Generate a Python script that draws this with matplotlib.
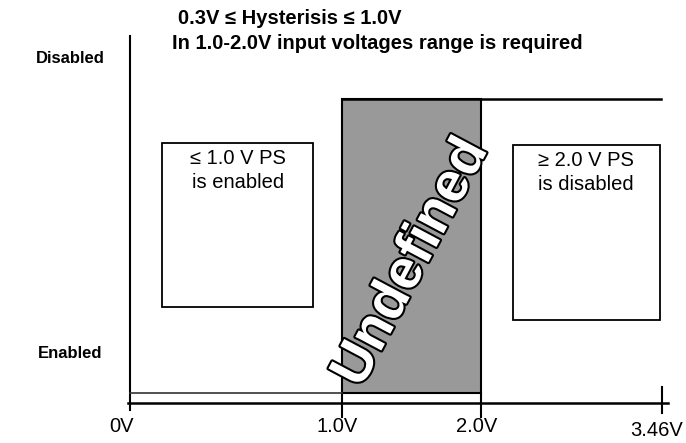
import matplotlib
matplotlib.use('Agg')
from matplotlib import pyplot as plt
from matplotlib.patches import Rectangle
import matplotlib.patheffects as pe

plt.rcParams['font.family'] = ['Liberation Sans', 'DejaVu Sans']

# schematic layout in pixel-like units (not to scale)
tick_labels = ['0V', '1.0V', '2.0V', '3.46V']
tick_x = [130, 342, 481, 662]
level_labels = ['Disabled', 'Enabled']
level_y = [58, 353]
high_y = 99
low_y = 393
axis_y = 403
title_lines = ['0.3V \u2264 Hysterisis \u2264 1.0V',
               'In 1.0-2.0V input voltages range is required']
left_box_lines = ['\u2264 1.0 V PS', 'is enabled']
right_box_lines = ['\u2265 2.0 V PS', 'is disabled']

fig = plt.figure(figsize=(6.86, 4.43), dpi=100)
ax = fig.add_axes([0, 0, 1, 1])
ax.set_xlim(0, 686)
ax.set_ylim(443, 0)
ax.axis('off')

# axes
ax.plot([tick_x[0], tick_x[0]], [36, 410], color='black', lw=1.5)
ax.plot([tick_x[0] - 2, 668], [axis_y, axis_y], color='black', lw=1.8)
for x in tick_x[1:3]:
    ax.plot([x, x], [low_y, 417], color='black', lw=1.5)
ax.plot([tick_x[3], tick_x[3]], [387, 413], color='black', lw=1.5)

# undefined region
ax.add_patch(Rectangle((tick_x[1], high_y), tick_x[2] - tick_x[1], low_y - high_y,
                       facecolor='#999999', edgecolor='black', lw=1.5, zorder=2))
# transfer curve: low up to 1.0V, high from 1.0V
ax.plot([tick_x[0], tick_x[1]], [low_y, low_y], color='#333333', lw=1.2)
ax.plot([tick_x[1], 661], [high_y, high_y], color='black', lw=1.8, zorder=3)

# boxes
ax.add_patch(Rectangle((162, 143), 151, 164, facecolor='white', edgecolor='black', lw=1.3))
ax.add_patch(Rectangle((513, 145), 147, 175, facecolor='white', edgecolor='black', lw=1.3))
for lab, y in zip(left_box_lines, [159, 183]):
    ax.text(238, y, lab, ha='center', va='center', fontsize=14.5)
for lab, y in zip(right_box_lines, [161, 185]):
    ax.text(586, y, lab, ha='center', va='center', fontsize=14.5)

t = ax.text(412, 263, 'Undefined', ha='center', va='center', rotation=62,
            fontsize=40, fontweight='bold', color='white', zorder=4)
t.set_path_effects([pe.Stroke(linewidth=3, foreground='black'), pe.Normal()])

# labels
for lab, y in zip(level_labels, level_y):
    ax.text(70, y, lab, ha='center', va='center', fontsize=12, fontweight='bold')
ax.text(178, 18, title_lines[0], ha='left', va='center', fontsize=14.5, fontweight='bold')
ax.text(172, 43, title_lines[1], ha='left', va='center', fontsize=14.5, fontweight='bold')

label_dx = [-8, -5, -4, -5]
label_y = [427, 427, 427, 430]
for lab, x, dx, y in zip(tick_labels, tick_x, label_dx, label_y):
    ax.text(x + dx, y, lab, ha='center', va='center', fontsize=14.5)

fig.savefig('out.png', dpi=100)
